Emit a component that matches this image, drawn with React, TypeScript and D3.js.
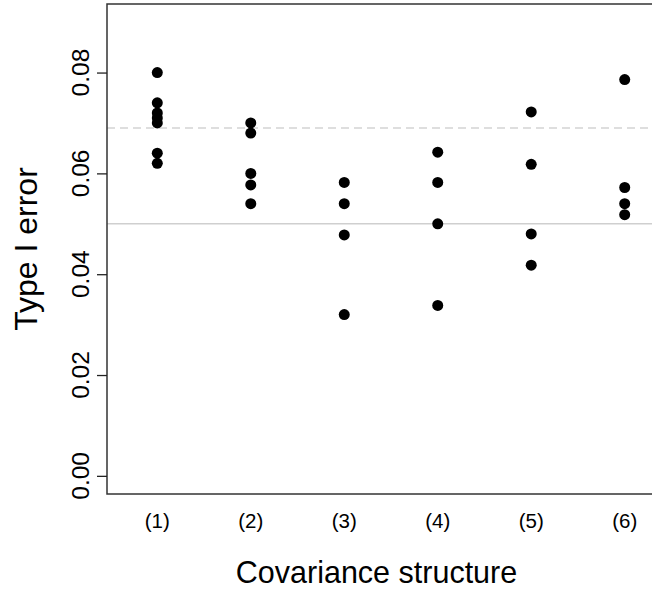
import React, { useEffect, useRef } from 'react'
import { axisLeft, scaleLinear, select } from 'd3'

// values, one list per covariance structure
const categories = ['(1)', '(2)', '(3)', '(4)', '(5)', '(6)']
const cov1 = [0.08, 0.074, 0.072, 0.071, 0.07, 0.064, 0.062]
const cov2 = [0.07, 0.068, 0.06, 0.0577, 0.054]
const cov3 = [0.0582, 0.054, 0.0478, 0.032]
const cov4 = [0.0642, 0.0582, 0.05, 0.0338]
const cov5 = [0.0722, 0.0618, 0.048, 0.0418]
const cov6 = [0.0786, 0.0572, 0.054, 0.0518]
const yTicks = [0, 0.02, 0.04, 0.06, 0.08]
const nominal = 0.05
const upperBound = 0.069

const series = [cov1, cov2, cov3, cov4, cov5, cov6]
const font = 'Liberation Sans, Arial, Helvetica, sans-serif'

export default function App() {
  const width = 652
  const height = 592
  const left = 107
  const top = 4
  const bottom = 494
  const right = 675 // box runs off the right edge like in the original

  const x = scaleLinear().domain([0.462, 6.538]).range([left, right])
  const y = scaleLinear().domain([-0.0036, 0.0936]).range([bottom, top])

  const axisRef = useRef<SVGGElement>(null)
  useEffect(() => {
    const g = select(axisRef.current)
    g.call(axisLeft(y).tickValues(yTicks).tickSize(10).tickSizeOuter(0).tickFormat(() => ''))
    g.select('.domain').remove()
    g.selectAll('.tick line').attr('stroke', '#222').attr('stroke-width', 1.3)
  }, [])

  return (
    <svg width={width} height={height} style={{ position: 'absolute', left: 0, top: 0 }}>
      <rect width={width} height={height} fill="#fff" />
      {/* reference lines */}
      <line x1={left} x2={right} y1={y(nominal)} y2={y(nominal)} stroke="#cfcfcf" strokeWidth={1.5} />
      <line x1={left} x2={right} y1={y(upperBound)} y2={y(upperBound)} stroke="#d3d3d3" strokeWidth={1.5} strokeDasharray="8 5" />
      {series.map((vals, i) =>
        vals.map((v, j) => <circle key={`${i}-${j}`} cx={x(i + 1)} cy={y(v)} r={5.5} fill="#000" />)
      )}
      <rect x={left} y={top} width={right - left} height={bottom - top} fill="none" stroke="#333" strokeWidth={1.5} />
      <g ref={axisRef} transform={`translate(${left},0)`} />
      {yTicks.map(t => (
        <text
          key={t}
          transform={`translate(88.5,${y(t)}) rotate(-90)`}
          textAnchor="middle"
          fontSize={24.5}
          fontFamily={font}
        >
          {t.toFixed(2)}
        </text>
      ))}
      {categories.map((c, i) => (
        <text key={c} x={x(i + 1)} y={528} textAnchor="middle" fontSize={20.5} fontFamily={font}>
          {c}
        </text>
      ))}
      <text x={(left + 646) / 2} y={583} textAnchor="middle" fontSize={30.5} fontFamily={font}>
        Covariance structure
      </text>
      <text transform={`translate(37,${(top + bottom) / 2}) rotate(-90)`} textAnchor="middle" fontSize={32} fontFamily={font}>
        Type I error
      </text>
    </svg>
  )
}
